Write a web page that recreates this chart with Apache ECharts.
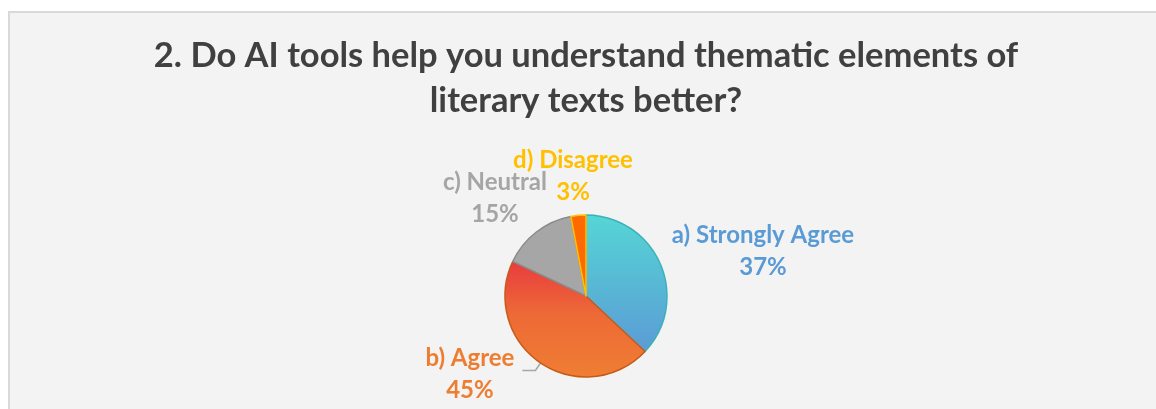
<!DOCTYPE html>
<html>
<head>
<meta charset="utf-8">
<script src="https://cdn.jsdelivr.net/npm/echarts@6/dist/echarts.min.js"></script>
<style>
  html, body { margin: 0; padding: 0; background: #ffffff; }
  #chart { width: 1156px; height: 409px; }
</style>
</head>
<body>
<div id="chart"></div>
<script>
// Survey answers, share of respondents in percent
const categories = ['a) Strongly Agree', 'b) Agree', 'c) Neutral', 'd) Disagree'];
const values = [37, 45, 15, 3];
const titleLines = ['2. Do AI tools help you understand thematic elements of', 'literary texts better?'];

const G = echarts.graphic.LinearGradient;
const sliceFills = [
  new G(0, 0, 0, 1, [{ offset: 0, color: '#55d6d5' }, { offset: 1, color: '#5b9bd5' }]),
  new G(0, 0, 0, 1, [{ offset: 0, color: '#e93b3f' }, { offset: 0.45, color: '#ed6936' }, { offset: 1, color: '#ef7e33' }]),
  '#a6a6a6',
  '#ff6a00'
];
const sliceBorders = ['#3cb2b8', '#c85a17', '#8a8a8a', '#ffc000'];
const labelColors = ['#5b9bd5', '#ed7d31', '#a5a5a5', '#ffc000'];
const FONT = 'Lato';
const LABEL_SIZE = 24;

const chart = echarts.init(document.getElementById('chart'), null, { renderer: 'canvas' });

const pieData = categories.map((name, i) => ({
  name: name,
  value: values[i],
  itemStyle: { color: sliceFills[i], borderColor: sliceBorders[i], borderWidth: 1.5 },
  label: {
    color: labelColors[i],
    padding: i === 1 ? [8, 0, 0, 0] : 0,
    rich: { n: { align: 'center', color: labelColors[i], fontFamily: FONT, fontWeight: 'bold', fontSize: LABEL_SIZE, lineHeight: 32 } }
  },
  labelLine: { show: i === 1 }
}));

// label anchors for slices placed freely around the pie (the "Agree" label keeps its leader line)
const labelSpots = { 0: [763, 251], 2: [495, 198], 3: [573, 176] };

chart.setOption({
  backgroundColor: '#ffffff',
  animation: false,
  graphic: [{
    type: 'rect',
    z: -10,
    shape: { x: 9, y: 12, width: 1300, height: 600 },
    style: { fill: '#f3f3f3', stroke: '#d9d9d9', lineWidth: 2 }
  }],
  title: {
    text: titleLines.join('\n'),
    left: 586,
    top: 33,
    textAlign: 'center',
    padding: 0,
    textStyle: { fontFamily: FONT, fontWeight: 'bold', fontSize: 34.5, color: '#404040', lineHeight: 45 }
  },
  series: [{
    type: 'pie',
    center: [586, 296],
    radius: 81,
    startAngle: 90,
    clockwise: true,
    avoidLabelOverlap: false,
    data: pieData,
    label: {
      show: true,
      position: 'outside',
      distanceToLabelLine: 8,
      fontFamily: FONT,
      fontWeight: 'bold',
      fontSize: LABEL_SIZE,
      lineHeight: 32,
      formatter: p => '{n|' + p.name + '}\n{n|' + p.value + '%}'
    },
    labelLine: {
      length: 9,
      length2: 13,
      smooth: false,
      lineStyle: { color: '#a6a6a6', width: 1.5 }
    },
    labelLayout: function (params) {
      const spot = labelSpots[params.dataIndex];
      if (!spot) return {};
      return { x: spot[0], y: spot[1], align: 'center', verticalAlign: 'middle' };
    }
  }]
});
</script>
</body>
</html>
